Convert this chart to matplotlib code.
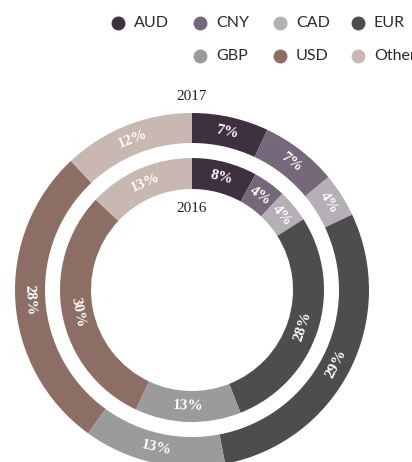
import numpy as np
import matplotlib
matplotlib.use("Agg")
import matplotlib.pyplot as plt

currencies = ['AUD', 'CNY', 'CAD', 'EUR', 'GBP', 'USD', 'Other']
share_2017 = [7, 7, 4, 29, 13, 28, 12]
share_2016 = [8, 4, 4, 28, 13, 30, 13]
colores = ['#3f3040', '#76687a', '#b5afb6', '#4d4d4d', '#9b9b9b', '#8d6e65', '#c9b7b2']

W, H = 412, 462
cx, cy = 192, 290   # centro del donut en pixeles

fig = plt.figure(figsize=(W/100, H/100), dpi=100)
ax = fig.add_axes([0, 0, 1, 1])


def anillo(valores, r_ext, ancho):
    wedges, _ = ax.pie(valores, radius=r_ext, colors=colores, startangle=90,
                       counterclock=False, center=(0, 0),
                       wedgeprops=dict(width=ancho, linewidth=0))
    r_mid = r_ext - ancho/2
    for w, v in zip(wedges, valores):
        ang = (w.theta1 + w.theta2)/2
        x = r_mid*np.cos(np.radians(ang))
        y = r_mid*np.sin(np.radians(ang))
        rot = ang - 90
        while rot > 90:
            rot -= 180
        while rot < -90:
            rot += 180
        ax.text(x, y, '{}%'.format(v), color='white', ha='center', va='center',
                rotation=rot, rotation_mode='anchor', fontsize=11,
                fontweight='bold', family='Liberation Serif')


anillo(share_2017, 177, 30)
anillo(share_2016, 132, 31)

ax.text(0, 290-97, '2017', ha='center', va='center', fontsize=11,
        family='Liberation Serif', color='#222222')
ax.text(0, 290-208, '2016', ha='center', va='center', fontsize=11,
        family='Liberation Serif', color='#222222')

ax.set_xlim(-cx, W-cx)
ax.set_ylim(cy-H, cy)
ax.set_aspect('equal')
ax.axis('off')

# leyenda manual, alineada a la derecha y en dos filas
col_x = [118, 200, 280, 358]
posiciones = [(0, 0), (0, 1), (0, 2), (0, 3), (1, 1), (1, 2), (1, 3)]
fila_y = [23, 56]
for nombre, color, (f, c) in zip(currencies, colores, posiciones):
    px, py = col_x[c] - cx, cy - fila_y[f]
    ax.plot(px, py, 'o', color=color, markersize=9, clip_on=False)
    ax.text(px + 16, py, nombre, ha='left', va='center', fontsize=11.5,
            family='Lato', color='#2a2a2a', clip_on=False)

plt.savefig('out.png', dpi=100)
